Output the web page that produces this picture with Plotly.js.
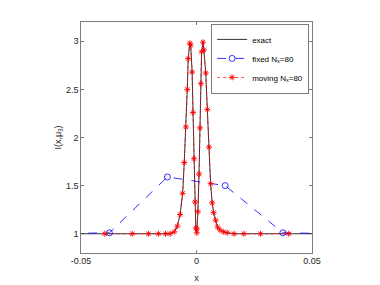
<!DOCTYPE html>
<html><head><meta charset="utf-8">
<script src="https://cdn.plot.ly/plotly-3.0.1.min.js"></script>
<style>html,body{margin:0;padding:0;background:#fff}#c{width:380px;height:285px}</style>
</head><body><div id="c"></div>
<script>
const movingX = [-0.0397,-0.0278,-0.0208,-0.0165,-0.0134,-0.0114,-0.0096,-0.0083,-0.0071,-0.0060,-0.0053,-0.0046,-0.0040,-0.0036,-0.0029,-0.0025,-0.0019,-0.0015,-0.0011,-0.0006,-0.0003,0.0001,0.0002,0.0006,0.0011,0.0015,0.0019,0.0022,0.0028,0.0032,0.0040,0.0047,0.0054,0.0061,0.0068,0.0074,0.0083,0.0091,0.0101,0.0116,0.0133,0.0162,0.0205,0.0277,0.0399];
const movingY = [1,1,1,1,1,1,1.02,1.08,1.2,1.42,1.74,2.11,2.5,2.82,2.98,2.96,2.68,2.26,1.78,1.33,1.06,1.01,1.05,1.23,1.62,2.10,2.56,2.89,2.99,2.91,2.67,2.29,1.90,1.52,1.32,1.22,1.14,1.07,1.04,1.02,1.01,1,1,1,1];
const exactX = [-0.05].concat(movingX, [0.05]);
const exactY = [1].concat(movingY, [1]);
const fixedX = [-0.0625,-0.0377,-0.0126,0.0124,0.0374,0.0625];
const fixedY = [1,1.01,1.59,1.50,1.01,1];
const xTicks = [-0.05,0,0.05];
const yTicks = [1,1.5,2,2.5,3];

const font = {family:'Liberation Sans, Arial, sans-serif', size:9, color:'#262626'};
const traces = [
 {x:exactX, y:exactY, mode:'lines', name:'exact', line:{color:'#000', width:0.8}},
 {x:fixedX, y:fixedY, mode:'lines+markers', name:'fixed N<sub>x</sub>=80',
  line:{color:'#0000ff', width:0.8, dash:'dash'},
  marker:{symbol:'circle-open', size:6, color:'#0000ff', line:{width:0.8}}},
 {x:movingX, y:movingY, mode:'lines+markers', name:'moving N<sub>x</sub>=80',
  line:{color:'#ff0000', width:0.7, dash:'dot'},
  marker:{symbol:'asterisk-open', size:5, color:'#ff0000', line:{width:0.9, color:'#ff0000'}}}
];
const axBase = {showgrid:false, zeroline:false, showline:true, linecolor:'#262626', linewidth:0.6,
  mirror:'allticks', ticks:'inside', ticklen:3, tickcolor:'#262626', tickwidth:0.6, tickfont:font};
const layout = {
 width:380, height:285, paper_bgcolor:'#fff', plot_bgcolor:'#fff',
 margin:{l:80.5, r:67.5, t:21.7, b:32},
 showlegend:true,
 xaxis:Object.assign({}, axBase, {range:[-0.05,0.05], tickvals:xTicks, ticktext:['-0.05','0','0.05'],
   title:{text:'x', font:font, standoff:9}}),
 yaxis:Object.assign({}, axBase, {range:[0.8,3.2], tickvals:yTicks, ticktext:['1','1.5','2','2.5','3'],
   title:{text:'I(x,μ<sub>3</sub>)', font:font, standoff:2}}),
 legend:{x:0.985, y:0.99, xanchor:'right', yanchor:'top', bgcolor:'#fff', bordercolor:'#262626', borderwidth:0.6,
   font:{family:font.family, size:8, color:'#000'}, tracegroupgap:0, itemwidth:30}
};
Plotly.newPlot('c', traces, layout, {staticPlot:true, displayModeBar:false});
</script></body></html>
